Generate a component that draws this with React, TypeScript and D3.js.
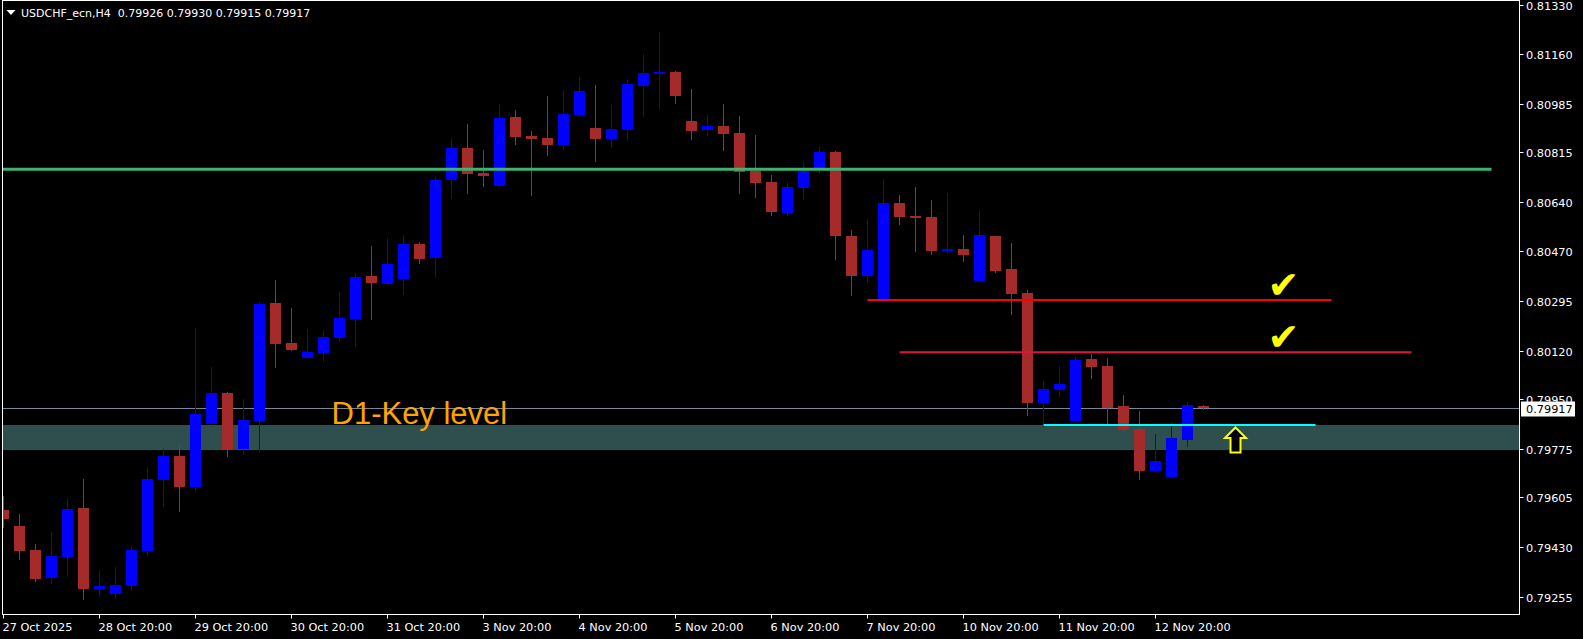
import React from 'react';
import * as d3 from 'd3';

const W = 1583;
const H = 639;

// H4 bars, 27 Oct 2025 20:00 .. 13 Nov 2025 08:00
const opens = [
  0.79561, 0.79505, 0.79421, 0.79324, 0.79396, 0.79568, 0.79284, 0.79268, 0.79296, 0.79417,
  0.79666, 0.79750, 0.79642, 0.79862, 0.79971, 0.79775, 0.79873, 0.80286, 0.80146, 0.80094,
  0.80111, 0.80164, 0.80230, 0.80381, 0.80353, 0.80371, 0.80493, 0.80444, 0.80718, 0.80830,
  0.80742, 0.80697, 0.80938, 0.80872, 0.80865, 0.80840, 0.80945, 0.80900, 0.80861, 0.80893,
  0.81047, 0.81089, 0.81096, 0.80924, 0.80893, 0.80907, 0.80882, 0.80749, 0.80711, 0.80602,
  0.80690, 0.80760, 0.80816, 0.80521, 0.80381, 0.80301, 0.80637, 0.80591, 0.80588, 0.80469,
  0.80476, 0.80364, 0.80521, 0.80406, 0.80322, 0.79936, 0.79982, 0.79873, 0.80090, 0.80066,
  0.79925, 0.79845, 0.79698, 0.79677, 0.79806, 0.79926,
];
const highs = [
  0.79610, 0.79547, 0.79442, 0.79484, 0.79603, 0.79670, 0.79351, 0.79361, 0.79431, 0.79712,
  0.79775, 0.79793, 0.80199, 0.80062, 0.79975, 0.79950, 0.80290, 0.80367, 0.80269, 0.80195,
  0.80192, 0.80325, 0.80392, 0.80486, 0.80514, 0.80525, 0.80500, 0.80728, 0.80865, 0.80914,
  0.80823, 0.80984, 0.80963, 0.80889, 0.81012, 0.81033, 0.81079, 0.81051, 0.80981, 0.81068,
  0.81159, 0.81236, 0.81098, 0.81037, 0.80945, 0.80984, 0.80942, 0.80875, 0.80735, 0.80711,
  0.80781, 0.80837, 0.80818, 0.80542, 0.80581, 0.80721, 0.80665, 0.80693, 0.80648, 0.80672,
  0.80525, 0.80612, 0.80523, 0.80497, 0.80332, 0.80013, 0.80066, 0.80097, 0.80108, 0.80094,
  0.79964, 0.79908, 0.79827, 0.79869, 0.79939, 0.79930,
];
const lows = [
  0.79502, 0.79388, 0.79313, 0.79306, 0.79331, 0.79249, 0.79261, 0.79254, 0.79282, 0.79403,
  0.79575, 0.79557, 0.79631, 0.79862, 0.79750, 0.79758, 0.79768, 0.80062, 0.80122, 0.80094,
  0.80083, 0.80157, 0.80136, 0.80230, 0.80350, 0.80318, 0.80427, 0.80378, 0.80655, 0.80672,
  0.80697, 0.80693, 0.80844, 0.80665, 0.80805, 0.80826, 0.80942, 0.80784, 0.80833, 0.80858,
  0.80942, 0.80966, 0.80988, 0.80861, 0.80875, 0.80823, 0.80672, 0.80658, 0.80595, 0.80595,
  0.80651, 0.80742, 0.80441, 0.80315, 0.80360, 0.80299, 0.80563, 0.80469, 0.80458, 0.80465,
  0.80434, 0.80364, 0.80395, 0.80248, 0.79894, 0.79856, 0.79961, 0.79869, 0.80024, 0.79866,
  0.79838, 0.79670, 0.79698, 0.79677, 0.79785, 0.79915,
];
const closes = [
  0.79530, 0.79418, 0.79320, 0.79400, 0.79564, 0.79284, 0.79295, 0.79298, 0.79421, 0.79670,
  0.79750, 0.79642, 0.79897, 0.79971, 0.79771, 0.79876, 0.80283, 0.80143, 0.80122, 0.80115,
  0.80167, 0.80234, 0.80378, 0.80357, 0.80423, 0.80493, 0.80441, 0.80718, 0.80830, 0.80739,
  0.80732, 0.80935, 0.80868, 0.80861, 0.80840, 0.80949, 0.81030, 0.80861, 0.80896, 0.81054,
  0.81093, 0.81096, 0.81012, 0.80889, 0.80907, 0.80879, 0.80746, 0.80707, 0.80605, 0.80693,
  0.80749, 0.80816, 0.80521, 0.80381, 0.80472, 0.80637, 0.80588, 0.80584, 0.80469, 0.80476,
  0.80455, 0.80525, 0.80399, 0.80318, 0.79936, 0.79985, 0.80003, 0.80087, 0.80062, 0.79918,
  0.79841, 0.79698, 0.79733, 0.79813, 0.79929, 0.79917,
];

const priceTicks = [0.8133, 0.8116, 0.80985, 0.80815, 0.8064, 0.8047, 0.80295, 0.8012, 0.7995, 0.79775, 0.79605, 0.7943, 0.79255];
const dateTickBars = [0, 6, 12, 18, 24, 30, 36, 42, 48, 54, 60, 66, 72];
const dateLabels = [
  '27 Oct 2025', '28 Oct 20:00', '29 Oct 20:00', '30 Oct 20:00', '31 Oct 20:00', '3 Nov 20:00',
  '4 Nov 20:00', '5 Nov 20:00', '6 Nov 20:00', '7 Nov 20:00', '10 Nov 20:00', '11 Nov 20:00', '12 Nov 20:00',
];

const headerText = 'USDCHF_ecn,H4  0.79926 0.79930 0.79915 0.79917';
const lastPrice = 0.79917;

// key zone (D1)
const zoneTop = 0.79859;
const zoneBottom = 0.79771;
const zoneLabel = 'D1-Key level';
const zoneLabelBar = 20.5;

// horizontal levels
const levelPrices = [0.80755, 0.80297, 0.80114, 0.79859];
const levelFrom = [-5, 54, 56, 65];
const levelTo = [93, 83, 88, 82];
const levelColors = ['#3cb371', '#ff0000', '#dc143c', '#00ffff'];
const levelWidths = [3, 2, 2, 2];

const checkBars = [80, 80];
const checkPrices = [0.80297, 0.80114];
const arrowBar = 77;
const arrowPrice = 0.79859;

const FONT = '"DejaVu Sans", Verdana, sans-serif';

export default function App() {
  const left = 2.5;
  const right = 1519.5;
  const top = 0.5;
  const bottom = 614.5;

  const x = d3.scaleLinear().domain([0, 1]).range([3.5, 19.5]);
  const y = d3.scaleLinear().domain([0.79255, 0.8133]).range([597.3, 5.3]);

  const bull = '#0000ff';
  const bear = '#a52a2a';
  const bodyW = 11;

  const yLast = Math.round(y(lastPrice)) + 0.5;

  return (
    <svg
      width={W}
      height={H}
      style={{ position: 'absolute', left: 0, top: 0, background: '#000', display: 'block' }}
    >
      <defs>
        <clipPath id="plot">
          <rect x={left + 0.5} y={top + 0.5} width={right - left - 1} height={bottom - top - 1} />
        </clipPath>
      </defs>
      <rect x={0} y={0} width={W} height={H} fill="#000" />

      <g clipPath="url(#plot)">
        <rect
          x={left}
          y={y(zoneTop)}
          width={right - left}
          height={y(zoneBottom) - y(zoneTop)}
          fill="#2f4f4f"
        />
        <line x1={left} x2={right} y1={yLast} y2={yLast} stroke="#778899" strokeWidth={1} />

        {opens.map((o, i) => {
          const c = closes[i];
          const up = c >= o;
          const col = up ? bull : bear;
          const cx = x(i);
          const yt = Math.round(y(Math.max(o, c)));
          const yb = Math.round(y(Math.min(o, c)));
          return (
            <g key={i}>
              <line
                x1={cx}
                x2={cx}
                y1={Math.round(y(highs[i]))}
                y2={Math.round(y(lows[i])) + 1}
                stroke={col}
                strokeWidth={1}
              />
              <rect
                x={cx - bodyW / 2}
                y={yt}
                width={bodyW}
                height={Math.max(2, yb - yt)}
                fill={col}
              />
            </g>
          );
        })}

        {levelPrices.map((p, k) => (
          <line
            key={'lv' + k}
            x1={x(levelFrom[k])}
            x2={x(levelTo[k])}
            y1={y(p)}
            y2={y(p)}
            stroke={levelColors[k]}
            strokeWidth={levelWidths[k]}
          />
        ))}

        <text
          x={x(zoneLabelBar)}
          y={y(zoneTop) - 1}
          fill="#ffa500"
          fontFamily='"Liberation Sans", Arial, sans-serif'
          fontSize={31}
        >
          {zoneLabel}
        </text>

        {checkBars.map((b, k) => (
          <text
            key={'ck' + k}
            x={x(b)}
            y={y(checkPrices[k]) - 2}
            fill="#ffff00"
            fontFamily={FONT}
            fontSize={38}
            textAnchor="middle"
          >
            ✔
          </text>
        ))}

        {(() => {
          const ax = x(arrowBar);
          const ay = y(arrowPrice) + 2.5;
          const d = `M${ax},${ay} L${ax + 10.5},${ay + 10.5} L${ax + 5},${ay + 10.5} L${ax + 5},${ay + 25} L${ax - 5},${ay + 25} L${ax - 5},${ay + 10.5} L${ax - 10.5},${ay + 10.5} Z`;
          return <path d={d} fill="#000" stroke="#ffff00" strokeWidth={2} strokeLinejoin="miter" />;
        })()}
      </g>

      <rect x={left} y={top} width={right - left} height={bottom - top} fill="none" stroke="#fff" strokeWidth={1} />

      {priceTicks.map((p) => {
        const ty = Math.round(y(p)) + 0.5;
        return (
          <g key={'pt' + p}>
            <line x1={right} x2={right + 4} y1={ty} y2={ty} stroke="#fff" />
            <text x={1526} y={ty + 4} fill="#fff" fontFamily={FONT} fontSize={11.3}>
              {p.toFixed(5)}
            </text>
          </g>
        );
      })}
      <rect x={1521} y={yLast - 7} width={54} height={15} fill="#fff" />
      <text x={1526} y={yLast + 4} fill="#000" fontFamily={FONT} fontSize={11.3}>
        {lastPrice.toFixed(5)}
      </text>

      {dateTickBars.map((b, k) => {
        const tx = Math.round(x(b) + 0.5) - 0.5;
        return (
          <g key={'dt' + b}>
            <line x1={tx} x2={tx} y1={bottom} y2={bottom + 4} stroke="#fff" />
            <text x={tx - 1} y={631} fill="#fff" fontFamily={FONT} fontSize={11.3}>
              {dateLabels[k]}
            </text>
          </g>
        );
      })}

      <path d="M6.5,10 L15.5,10 L11,15 Z" fill="#fff" />
      <text x={21} y={17} fill="#fff" fontFamily={FONT} fontSize={11} style={{ whiteSpace: 'pre' }}>
        {headerText}
      </text>
    </svg>
  );
}
